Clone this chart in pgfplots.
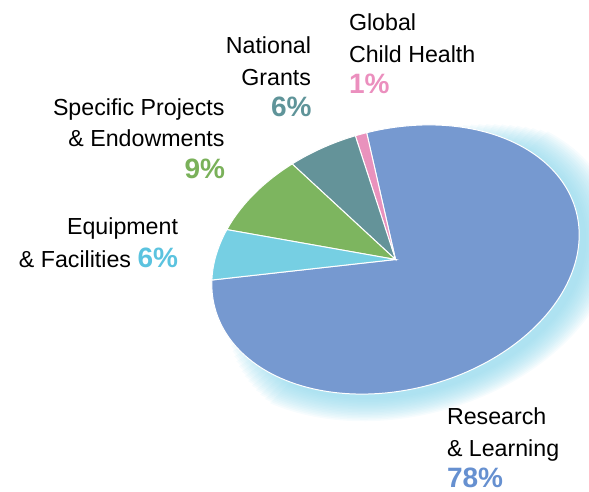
\documentclass[border=0pt]{standalone}
\usepackage{pgfplots}
\pgfplotsset{compat=1.18}
\usepackage{pgfplotstable}
\usepackage{fontspec}
\setmainfont{Liberation Sans}

\definecolor{bluec}{HTML}{7699D0}
\definecolor{cyanc}{HTML}{76CFE3}
\definecolor{greenc}{HTML}{7DB55F}
\definecolor{tealc}{HTML}{649399}
\definecolor{pinkc}{HTML}{E992BD}
\definecolor{glowc}{HTML}{86D4EA}
\definecolor{bluet}{HTML}{6690D0}
\definecolor{cyant}{HTML}{5BC3DF}
\definecolor{greent}{HTML}{7AB15A}
\definecolor{tealt}{HTML}{5F9499}
\definecolor{pinkt}{HTML}{EB8FBE}

% shares in percent
\def\vPink{1}   % Global Child Health
\def\vTeal{6}   % National Grants
\def\vGreen{9}  % Specific Projects & Endowments
\def\vCyan{6}   % Equipment & Facilities
\def\vBlue{78}  % Research & Learning

\pgfmathsetmacro\aA{88.5}
\pgfmathsetmacro\aB{\aA+3.6*\vPink}
\pgfmathsetmacro\aC{\aB+3.6*\vTeal}
\pgfmathsetmacro\aD{\aC+3.6*\vGreen}
\pgfmathsetmacro\aE{\aD+3.6*\vCyan}
\pgfmathsetmacro\aF{\aE+3.6*\vBlue}

\newcommand\lab{\fontsize{23.2pt}{31.5pt}\selectfont}
\newcommand\pct{\fontsize{28pt}{31.5pt}\selectfont\bfseries}

\begin{document}
\begin{tikzpicture}[x=1pt,y=1pt]
\useasboundingbox (0,0) rectangle (589,492);
\begin{axis}[
  hide axis, clip=false,
  x={(180.6pt,48.4pt)}, y={(-33.6pt,125.6pt)},
  xmin=-1.2, xmax=1.2, ymin=-1.2, ymax=1.2,
  at={(395.5pt,232.5pt)}, anchor=origin,
]
% soft glow behind the large slice (layers taper towards both ends)
\pgfplotsinvokeforeach{1,...,16}{
  \addplot[fill=glowc, draw=none, fill opacity=0.065, domain={186+2.2*#1}:{432-2.2*#1}, samples=100, variable=\t]
    ({0.03+(0.99+0.011*#1)*cos(t)}, {-0.05+(0.99+0.011*#1)*sin(t)}) -- (0.03,-0.05) -- cycle;
}
\addplot[fill=bluec, draw=white, line width=1pt, domain=\aE:\aF, samples=160, variable=\t]
  ({cos(t)}, {sin(t)}) -- (0,0) -- cycle;
\addplot[fill=pinkc, draw=white, line width=1pt, domain=\aA:\aB, samples=10, variable=\t]
  ({cos(t)}, {sin(t)}) -- (0,0) -- cycle;
\addplot[fill=tealc, draw=white, line width=1pt, domain=\aB:\aC, samples=30, variable=\t]
  ({cos(t)}, {sin(t)}) -- (0,0) -- cycle;
\addplot[fill=greenc, draw=white, line width=1pt, domain=\aC:\aD, samples=40, variable=\t]
  ({cos(t)}, {sin(t)}) -- (0,0) -- cycle;
\addplot[fill=cyanc, draw=white, line width=1pt, domain=\aD:\aE, samples=30, variable=\t]
  ({cos(t)}, {sin(t)}) -- (0,0) -- cycle;
\end{axis}

\begin{scope}[every node/.style={inner sep=0pt, outer sep=0pt}]
\node[anchor=base east] at (311,438) {\lab National};
\node[anchor=base east] at (311,406) {\lab Grants};
\node[anchor=base east, text=tealt] at (311.5,375) {\pct 6\%};

\node[anchor=base west] at (349,461) {\lab Global};
\node[anchor=base west] at (349,429.5) {\lab Child Health};
\node[anchor=base west, text=pinkt] at (349,398) {\pct 1\%};

\node[anchor=base east] at (224.5,376.5) {\lab Specific Projects};
\node[anchor=base east] at (224.5,345) {\lab \& Endowments};
\node[anchor=base east, text=greent] at (225,313) {\pct 9\%};

\node[anchor=base east] at (178,257.7) {\lab Equipment};
\node[anchor=base east] at (178,224.7) {\lab \& Facilities {\pct\color{cyant}6\%}};

\node[anchor=base west] at (447,67) {\lab Research};
\node[anchor=base west] at (447,35.3) {\lab \& Learning};
\node[anchor=base west, text=bluet] at (447,4.5) {\pct 78\%};
\end{scope}
\end{tikzpicture}
\end{document}
